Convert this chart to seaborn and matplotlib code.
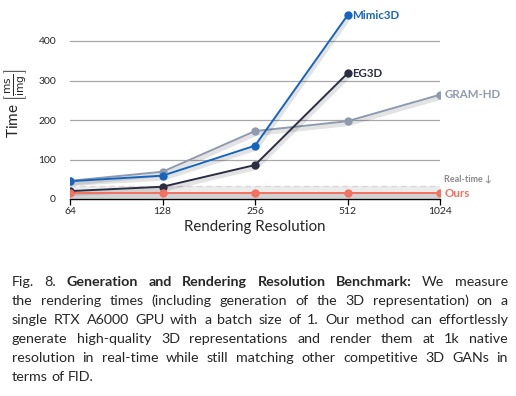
import matplotlib
matplotlib.use("Agg")
import matplotlib.pyplot as plt
import matplotlib.patheffects as pe
from matplotlib.ticker import FixedLocator, FixedFormatter, NullLocator
import seaborn as sns
import pandas as pd

resolutions = [64, 128, 256, 512, 1024]
gram_hd = [46, 69, 172, 197, 264]
mimic3d = [45, 59, 135, 465]
eg3d = [20, 31, 86, 318]
ours = [15, 15, 15, 15, 15]
real_time = 33.3

methods = ["GRAM-HD", "Mimic3D", "EG3D", "Ours"]
colors = {"GRAM-HD": "#8e9ab0", "Mimic3D": "#1565c0", "EG3D": "#2b2d42", "Ours": "#f4705f"}

caption = [
    [("Fig. 8. ", "normal"), ("Generation and Rendering Resolution Benchmark:", "bold"), ("We measure", "normal")],
    [("the rendering times (including generation of the 3D representation) on a", "normal")],
    [("single RTX A6000 GPU with a batch size of 1. Our method can effortlessly", "normal")],
    [("generate high-quality 3D representations and render them at 1k native", "normal")],
    [("resolution in real-time while still matching other competitive 3D GANs in", "normal")],
    [("terms of FID.", "normal")],
]

rows = []
for name, vals in zip(methods, [gram_hd, mimic3d, eg3d, ours]):
    for res, t in zip(resolutions, vals):
        rows.append({"method": name, "resolution": res, "time": t})
df = pd.DataFrame(rows)

sns.set_theme(style="white")
plt.rcParams['font.family'] = ['Lato', 'DejaVu Sans']
plt.rcParams['mathtext.fontset'] = 'dejavusans'

W, H = 516, 396
fig = plt.figure(figsize=(W / 100, H / 100), dpi=100)
ax = fig.add_axes([70 / W, (H - 199) / H, 370 / W, 191 / H])

# real-time band
ax.fill_between([64, 1024], 0, real_time, color="#ececec", zorder=0, lw=0)
ax.plot([64, 1024], [real_time, real_time], ls=(0, (4, 3)), color="#d8d8d8", lw=1, zorder=0.5)

# lines with a soft drop shadow, markers drawn on top without it
shadow = [pe.SimpleLineShadow(offset=(1, -2), shadow_color="#000000", alpha=0.11, linewidth=3), pe.Normal()]
sns.lineplot(data=df, x="resolution", y="time", hue="method", palette=colors,
             linewidth=1.4, ax=ax, legend=False, path_effects=shadow, zorder=3)
sns.lineplot(data=df, x="resolution", y="time", hue="method", palette=colors,
             marker="o", markersize=6, markeredgewidth=0, linestyle="",
             ax=ax, legend=False, zorder=4)

ax.set_xscale("log", base=2)
ax.set_xlim(64, 1024)
ax.set_ylim(0, (199 - 8) / 0.395)
ax.xaxis.set_major_locator(FixedLocator(resolutions))
ax.xaxis.set_major_formatter(FixedFormatter([str(r) for r in resolutions]))
ax.xaxis.set_minor_locator(NullLocator())
ax.set_yticks([0, 100, 200, 300, 400])
ax.grid(axis="y", color="#a8a8a8", lw=0.9)
ax.grid(axis="x", visible=False)
for s in ["top", "right", "left"]:
    ax.spines[s].set_visible(False)
ax.spines["bottom"].set_color("black")
ax.spines["bottom"].set_linewidth(1.0)
ax.spines["bottom"].set_zorder(5)
ax.tick_params(axis="x", bottom=True, length=4, width=0.9, color="black", labelsize=7.5, pad=2)
ax.tick_params(axis="y", left=False, labelsize=7.5, pad=4)
ax.set_xlabel("Rendering Resolution", fontsize=10.8, labelpad=3)
ax.set_ylabel(r"Time $\left[\frac{\mathrm{ms}}{\mathrm{img}}\right]$", fontsize=11, labelpad=7)

# end-of-line labels
for name, vals in zip(methods, [gram_hd, mimic3d, eg3d, ours]):
    ax.annotate(name, (resolutions[len(vals) - 1], vals[-1]), xytext=(3, 0),
                textcoords="offset points", va="center", ha="left",
                color=colors[name], fontsize=8.3, fontweight="bold", annotation_clip=False)
ax.annotate("Real-time \u2193", (1024, real_time), xytext=(3, 5), textcoords="offset points",
            va="center", ha="left", color="#8a8a8a", fontsize=6.5, fontweight="bold",
            annotation_clip=False)

# caption, justified word by word
renderer = fig.canvas.get_renderer()
x0, x1 = 12, 508
size = 10.3
for i, line in enumerate(caption):
    y = 1 - (282 + 19 * i) / H
    words = []
    for seg, wt in line:
        for w in seg.split():
            words.append((w, wt))
    texts = [fig.text(0, y, w, fontsize=size, fontweight=wt, va="center", ha="left") for w, wt in words]
    widths = [t.get_window_extent(renderer).width for t in texts]
    if i < len(caption) - 1:
        gap = (x1 - x0 - sum(widths)) / (len(words) - 1)
    else:
        gap = 3.4
    x = x0
    for t, wd in zip(texts, widths):
        t.set_x(x / W)
        x += wd + gap

fig.savefig("out.png", dpi=100)
